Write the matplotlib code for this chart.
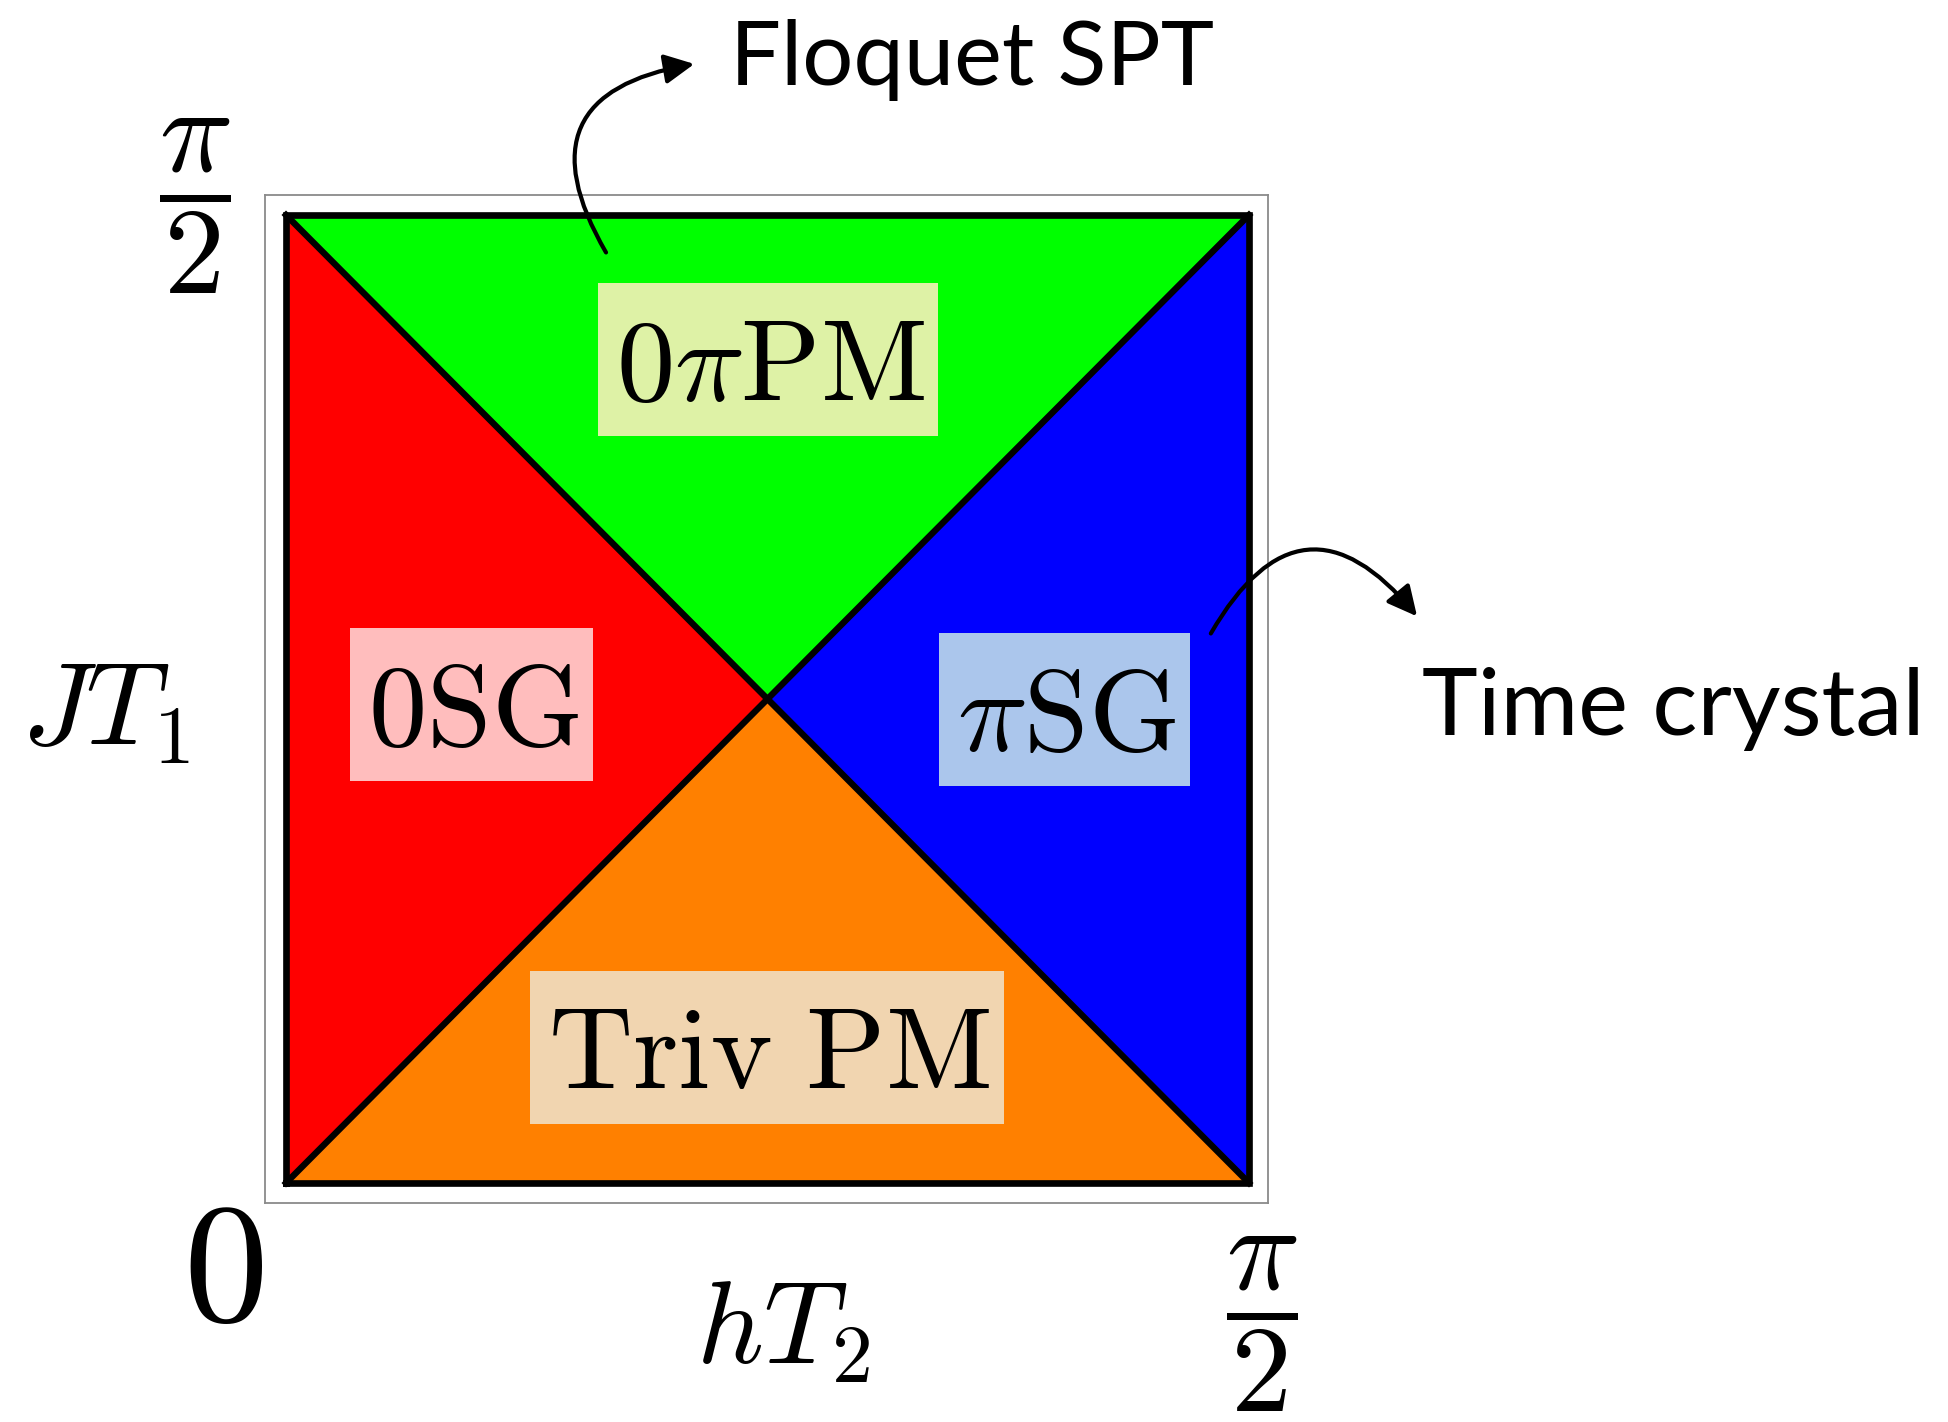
import numpy as np
import matplotlib
matplotlib.use("Agg")
import matplotlib.pyplot as plt
from matplotlib.patches import Polygon, Rectangle, FancyArrowPatch
from matplotlib.transforms import ScaledTranslation

plt.rcParams["mathtext.fontset"] = "cm"
plt.rcParams["font.family"] = ["DejaVu Sans"]

# ---------------- data ----------------
axis_max = np.pi / 2                      # hT2 and JT1 both span 0 .. pi/2
phase_names = [r"$0\pi\mathrm{PM}$", r"$0\mathrm{SG}$", r"$\pi\mathrm{SG}$", r"$\mathrm{Triv\ PM}$"]
phase_colors = ["#00FF00", "#FF0000", "#0000FF", "#FF8000"]
label_box_colors = ["#DEF2A6", "#FFBDBD", "#ABC6EC", "#F1D5B0"]
tick_values = [np.pi / 2]
tick_labels = [r"$\dfrac{\pi}{2}$"]
origin_label = r"$0$"
x_label = r"$hT_2$"
y_label = r"$JT_1$"
annotation_texts = ["Floquet SPT", "Time crystal"]

# phase boundaries: JT1 = hT2 and JT1 = pi/2 - hT2 (corners + crossing point)
M = axis_max
corners = np.array([[0, 0], [M, 0], [M, M], [0, M]])
center = np.array([M / 2, M / 2])
regions = [
    [corners[3], corners[2], center],   # 0pi PM (top)
    [corners[0], corners[3], center],   # 0SG (left)
    [corners[1], corners[2], center],   # pi SG (right)
    [corners[0], corners[1], center],   # Triv PM (bottom)
]

# ---------------- layout ----------------
W, H = 1948, 1422
fig = plt.figure(figsize=(W / 100, H / 100), dpi=100)
ax = fig.add_axes([265 / W, 1 - 1203 / H, 1003 / W, 1008 / H])
ax.set_xlim(-21 / 963 * M, M * (1 + 19 / 963))
ax.set_ylim(-20 / 968 * M, M * (1 + 20 / 968))

for verts, col in zip(regions, phase_colors):
    ax.add_patch(Polygon(verts, closed=True, facecolor=col, edgecolor="none", zorder=1))

# phase boundary lines
outline = np.vstack([corners, corners[:1]])
ax.plot(outline[:, 0], outline[:, 1], color="k", lw=4.8, zorder=3,
        solid_joinstyle="miter", clip_on=False)
ax.plot([corners[0, 0], corners[2, 0]], [corners[0, 1], corners[2, 1]], color="k", lw=4.6, zorder=3)
ax.plot([corners[3, 0], corners[1, 0]], [corners[3, 1], corners[1, 1]], color="k", lw=4.6, zorder=3)

# region labels (x-centre, baseline as fraction of axis_max)
label_pos = [(0.5026, 0.809), (0.195, 0.4525), (0.811, 0.447), (0.5016, 0.098)]
texts = []
for name, (fx, fy) in zip(phase_names, label_pos):
    t = ax.text(fx * M, fy * M, name, fontsize=84, ha="center", va="baseline", zorder=6)
    texts.append(t)

# ticks
ax.set_xticks(tick_values, tick_labels, fontsize=88)
ax.set_yticks(tick_values, tick_labels, fontsize=88)
ax.tick_params(axis="x", length=0, pad=23)
ax.tick_params(axis="y", length=0, pad=25)
for lab in ax.get_xticklabels():
    lab.set_transform(lab.get_transform() + ScaledTranslation(0.13, 0, fig.dpi_scale_trans))
for lab in ax.get_yticklabels():
    lab.set_transform(lab.get_transform() + ScaledTranslation(0, 0.47, fig.dpi_scale_trans))

ax.annotate(origin_label, xy=(0, 0), xytext=(-63, -90), textcoords="offset pixels",
            fontsize=122, ha="center", va="center", annotation_clip=False)

ax.set_xlabel(x_label, fontsize=84, ha="center", va="center")
ax.xaxis.set_label_coords(0.5165, -0.127)
ax.set_ylabel(y_label, fontsize=84, rotation=0, ha="center", va="center")
ax.yaxis.set_label_coords(-0.1585, 0.487)

for sp in ax.spines.values():
    sp.set_color("#8a8a8a")
    sp.set_linewidth(1.3)

# annotations
ax.text(0.4636, 1.1091, annotation_texts[0], transform=ax.transAxes, fontsize=65,
        family="Lato", ha="left", va="baseline")
ax.text(1.1535, 0.4643, annotation_texts[1], transform=ax.transAxes, fontsize=68,
        family="Lato", ha="left", va="baseline")

arrow_kw = dict(transform=ax.transAxes, arrowstyle="-|>,head_length=0.4,head_width=0.2",
                mutation_scale=45, lw=3, color="k", shrinkA=0, shrinkB=0, clip_on=False, zorder=7)
ax.add_artist(FancyArrowPatch((0.340, 0.943), (0.428, 1.130),
                              connectionstyle="arc3,rad=-0.72", **arrow_kw))
ax.add_artist(FancyArrowPatch((0.943, 0.565), (1.1486, 0.582),
                              connectionstyle="arc3,rad=-0.72", **arrow_kw))

# boxes behind the region labels
fig.canvas.draw()
renderer = fig.canvas.get_renderer()
inv = ax.transData.inverted()
pad_l, pad_r, pad_t, pad_b = 18, 14, 27, 11
for t, bc in zip(texts, label_box_colors):
    bb = t.get_window_extent(renderer)
    (x0, y0) = inv.transform((bb.x0 - pad_l, bb.y0 - pad_b))
    (x1, y1) = inv.transform((bb.x1 + pad_r, bb.y1 + pad_t))
    ax.add_patch(Rectangle((x0, y0), x1 - x0, y1 - y0, facecolor=bc, edgecolor="none", zorder=5))

fig.savefig("out.png", dpi=100)
